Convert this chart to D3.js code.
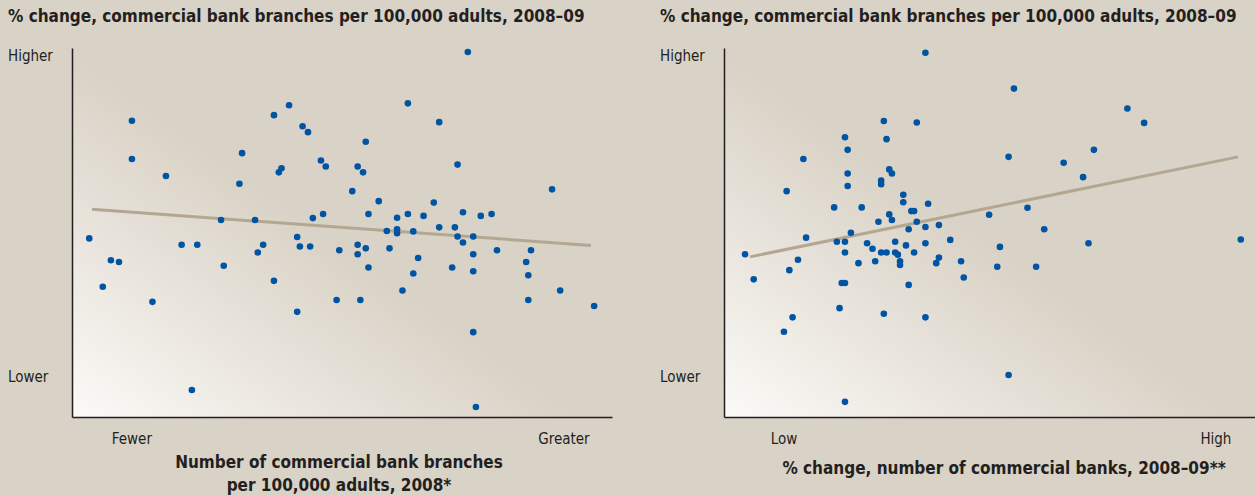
<!DOCTYPE html>
<html>
<head>
<meta charset="utf-8">
<script src="https://cdn.jsdelivr.net/npm/d3@7"></script>
<style>
  body { margin: 0; background: #d9d2c6; }
  svg { display: block; }
  text { font-family: "Liberation Sans Narrow", "DejaVu Sans Condensed", sans-serif; fill: #231f20; }
</style>
</head>
<body>
<svg id="chart" width="1255" height="496"></svg>
<script>
// Values on a 0-100 index scale.
// Left panel: branches per 100,000 adults (x) vs % change in branches (y).
const branchesX = [11.1, 11.1, 17.4, 31.5, 31.0, 37.4, 40.2, 42.7, 43.7, 38.8, 38.3, 46.1, 47.0, 27.6, 33.9, 44.6, 46.5, 3.2, 41.7,
  73.3, 62.2, 68.0, 54.4, 52.9, 53.9, 71.4, 51.9, 88.9, 56.8, 67.0, 54.9, 62.2, 60.2, 65.1, 72.4, 75.7, 77.7, 58.3, 60.2, 60.2,
  63.2, 68.0, 70.9, 71.4, 74.3, 20.3, 23.2, 35.4, 42.2, 44.1, 34.4, 49.5, 7.2, 8.7, 28.1, 5.7, 37.4, 14.9, 41.7, 49.0, 22.2,
  72.4, 52.9, 54.4, 52.9, 58.8, 54.9, 64.1, 63.2, 70.4, 74.3, 74.3, 78.7, 85.0, 84.1, 84.5, 61.2, 53.4, 84.5, 90.4, 96.7, 74.3, 74.8];
const branchesY = [80.3, 69.9, 65.3, 71.5, 63.2, 81.8, 84.5, 78.8, 77.2, 67.4, 66.3, 69.5, 67.9, 53.4, 53.4, 53.9, 55.0, 48.4, 48.8,
  98.9, 85.0, 79.9, 74.6, 67.9, 66.3, 68.4, 61.2, 61.7, 58.5, 58.1, 55.0, 55.0, 54.0, 54.5, 55.5, 54.5, 55.0, 50.4, 50.9, 49.8,
  50.3, 51.4, 51.4, 48.9, 48.9, 46.7, 46.7, 46.7, 46.2, 46.2, 44.6, 45.2, 42.5, 42.0, 41.0, 35.3, 36.9, 31.2, 28.5, 31.7, 7.3,
  47.3, 46.7, 45.7, 44.1, 45.7, 40.5, 43.1, 38.9, 40.5, 44.1, 39.5, 45.2, 45.2, 42.0, 38.4, 34.3, 31.7, 31.7, 34.3, 30.1, 23.0, 2.7];
const branchesTrend = [[3.7, 56.3], [96.1, 46.5]];

// Right panel: % change in number of banks (x) vs % change in branches (y).
const banksX = [37.3, 29.6, 35.7, 22.4, 30.1, 22.9, 14.7, 22.9, 30.6, 31.1, 22.9, 29.1, 29.1, 11.6, 33.2, 33.2, 37.8, 20.4, 25.5,
  34.7, 35.2, 30.6, 31.1, 28.6, 35.7, 34.2, 37.3, 39.8, 23.5, 15.2, 53.7, 74.7, 77.8, 68.5, 52.7, 62.9, 66.5, 56.2, 49.1, 59.3,
  95.7, 20.9, 22.4, 26.5, 31.7, 33.7, 37.3, 41.9, 3.9, 22.4, 27.5, 29.1, 30.1, 31.7, 32.2, 35.2, 13.7, 12.1, 24.9, 28.0, 32.6,
  32.6, 39.8, 39.3, 43.9, 44.4, 5.5, 21.8, 22.4, 34.2, 21.4, 29.6, 37.3, 12.7, 11.1, 22.4, 51.1, 67.5, 50.6, 57.8, 52.7];
const banksY = [98.7, 80.2, 79.8, 75.8, 75.3, 72.4, 69.9, 66.0, 67.1, 66.0, 62.6, 64.1, 63.1, 61.2, 60.2, 58.2, 57.8, 56.8, 56.8,
  55.8, 55.8, 54.9, 53.4, 52.9, 52.9, 50.9, 51.5, 52.0, 49.9, 48.6, 89.0, 83.6, 79.7, 72.4, 70.5, 68.9, 65.0, 56.7, 54.8, 50.9,
  48.1, 47.5, 47.5, 47.1, 47.5, 46.5, 47.1, 48.0, 44.1, 44.6, 45.6, 44.6, 44.6, 44.6, 44.0, 44.6, 42.6, 39.8, 41.7, 42.2, 42.2,
  41.2, 43.2, 41.7, 42.2, 37.8, 37.3, 36.3, 36.3, 35.8, 29.5, 28.0, 27.0, 27.0, 23.1, 4.1, 46.1, 47.1, 40.7, 40.7, 11.4];
const banksTrend = [[4.8, 43.4], [95.2, 70.5]];

// Axis end labels and where they sit on the index scale.
const yTickValues = [98, 11];
const yTickLabels = ["Higher", "Lower"];
const xTickValues = [11, 91];
const branchesXLabels = ["Fewer", "Greater"];
const banksXLabels = ["Low", "High"];

const panelTitle = "% change, commercial bank branches per 100,000 adults, 2008\u201309";

const svg = d3.select("#chart");
const bg = "#d9d2c6";

// Light corner wash in the lower left of each plot.
const grad = svg.append("defs").append("linearGradient")
  .attr("id", "wash")
  .attr("x1", 0).attr("y1", 1).attr("x2", 0.85).attr("y2", 0.15);
grad.append("stop").attr("offset", 0).attr("stop-color", "#fbfaf7");
grad.append("stop").attr("offset", 0.55).attr("stop-color", bg);
grad.append("stop").attr("offset", 1).attr("stop-color", bg);

function drawPanel(left, xs, ys, trend, xLabels, titleLines, titleX) {
  const x = d3.scaleLinear().domain([0, 100]).range([left, left + 540]);
  const y = d3.scaleLinear().domain([0, 100]).range([417, 48]);
  const g = svg.append("g");

  g.append("rect")
    .attr("x", left).attr("y", 30)
    .attr("width", 540).attr("height", 387)
    .attr("fill", "url(#wash)");

  g.append("text")
    .attr("x", left - 64).attr("y", 22)
    .style("font-size", "17px").style("font-weight", "bold")
    .text(panelTitle);

  g.append("line")
    .attr("x1", x(trend[0][0])).attr("y1", y(trend[0][1]))
    .attr("x2", x(trend[1][0])).attr("y2", y(trend[1][1]))
    .attr("stroke", "#b3a791").attr("stroke-width", 3);

  g.selectAll("circle.pt")
    .data(d3.range(xs.length))
    .enter()
    .append("circle")
    .attr("class", "pt")
    .attr("cx", i => x(xs[i]))
    .attr("cy", i => y(ys[i]))
    .attr("r", 3.3)
    .attr("fill", "#0054a4");

  const yAxis = g.append("g")
    .attr("transform", "translate(" + left + ",0)")
    .call(d3.axisLeft(y).tickValues(yTickValues)
      .tickFormat((d, i) => yTickLabels[i]).tickSize(0).tickSizeOuter(0));
  yAxis.select(".domain").attr("stroke", "#231f20").attr("stroke-width", 1.5);
  yAxis.selectAll("text")
    .attr("x", -64).attr("text-anchor", "start")
    .style("font-size", "15px").style("font-family", null);

  const xAxis = g.append("g")
    .attr("transform", "translate(0,417)")
    .call(d3.axisBottom(x).tickValues(xTickValues)
      .tickFormat((d, i) => xLabels[i]).tickSize(0).tickSizeOuter(0).tickPadding(16));
  xAxis.select(".domain").attr("stroke", "#231f20").attr("stroke-width", 1.5);
  xAxis.selectAll("text")
    .style("font-size", "15px").style("font-family", null);

  titleLines.forEach((t, i) => {
    g.append("text")
      .attr("x", titleX).attr("y", titleLines.length > 1 ? 468 + i * 23 : 474)
      .attr("text-anchor", "middle")
      .style("font-size", "17px").style("font-weight", "bold")
      .text(t);
  });
}

drawPanel(72, branchesX, branchesY, branchesTrend, branchesXLabels,
  ["Number of commercial bank branches", "per 100,000 adults, 2008*"], 339);
drawPanel(724, banksX, banksY, banksTrend, banksXLabels,
  ["% change, number of commercial banks, 2008\u201309**"], 1004);
</script>
</body>
</html>
